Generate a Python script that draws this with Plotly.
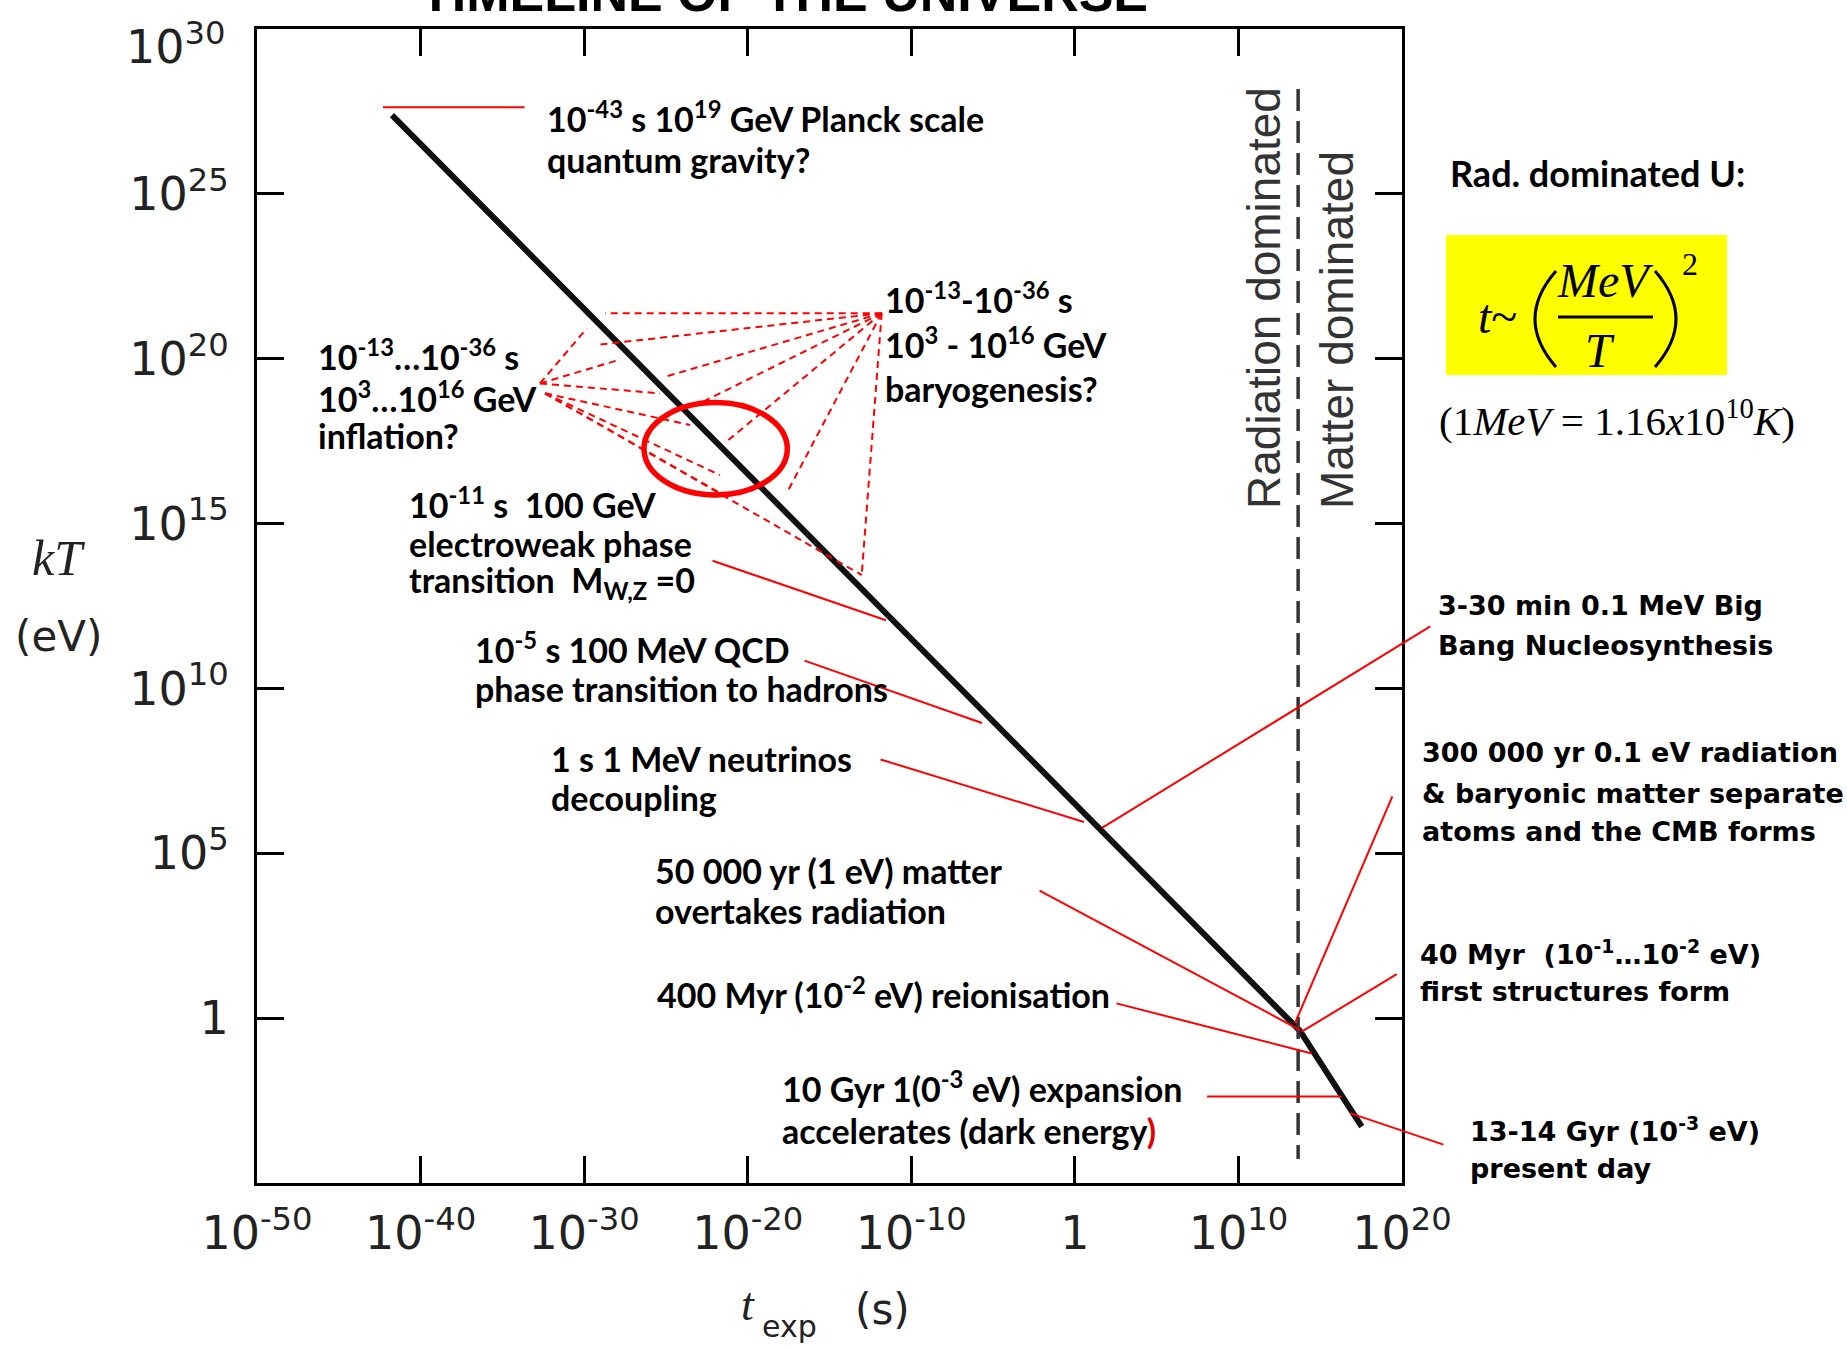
import plotly.graph_objects as go

# ------------------------------------------------------------------
# DATA (log10 values on the axes)
# ------------------------------------------------------------------
# kT(t) track: radiation era (slope -1/2) then matter era
curve_log_t = [-41.75, 13.75, 17.54]
curve_log_kT = [27.39, -0.38, -3.29]

# radiation / matter equality divider (dashed)
equality_log_t = 13.65
divider_log_kT = [28.18, -4.27]

# axis ticks
x_tick_exp = [-50, -40, -30, -20, -10, 0, 10, 20]
x_tick_text = ["10<sup>-50</sup>", "10<sup>-40</sup>", "10<sup>-30</sup>", "10<sup>-20</sup>",
               "10<sup>-10</sup>", "1", "10<sup>10</sup>", "10<sup>20</sup>"]
y_tick_exp = [0, 5, 10, 15, 20, 25, 30]
y_tick_text = ["1", "10<sup>5</sup>", "10<sup>10</sup>", "10<sup>15</sup>",
               "10<sup>20</sup>", "10<sup>25</sup>", "10<sup>30</sup>"]

# events on the track (point touched by the red leader) and leader far end
event_name = ["planck", "electroweak", "qcd", "neutrinos", "bbn", "equality",
              "cmb", "structures", "reionisation", "dark_energy", "today"]
event_log_t = [-42.30, -11.55, -5.68, 0.56, 1.66, 13.77, 13.46, 13.87, 14.48, 16.31, 16.82]
event_log_kT = [27.63, 12.07, 8.95, 5.95, 5.77, -0.36, -0.15, -0.41, -1.07, -2.38, -2.88]
leader_log_t = [-33.55, -22.24, -16.62, -11.97, 21.82, -2.25, 19.45, 19.77, 2.45, 7.99, 22.63]
leader_log_kT = [27.63, 13.89, 10.86, 7.86, 11.91, 3.89, 6.77, 1.36, 0.46, -2.38, -3.85]

# inflation / baryogenesis epoch fans (dashed), log10 coordinates
inflation_src_log = [(-32.70, 19.25), (-32.39, 18.95)]
inflation_dst_log = [(-29.84, 20.92, 0), (-27.91, 19.96, 0), (-25.36, 18.95, 0),
                     (-23.53, 17.99, 1), (-21.69, 16.47, 1), (-21.28, 15.81, 1),
                     (-13.03, 13.44, 1)]
baryo_src_log = (-11.81, 21.38)
baryo_dst_log = [(-28.72, 21.38), (-29.23, 20.42), (-25.06, 19.45), (-22.92, 18.65),
                 (-21.19, 17.53), (-17.62, 15.92), (-13.03, 13.44)]
# highlighted electroweak region (ellipse)
ew_region_log_t = [-26.34, -17.58]
ew_region_log_kT = [15.87, 18.67]


def lin(v):
    return 10.0 ** float(v)


# ------------------------------------------------------------------
# LAYOUT helpers
# ------------------------------------------------------------------
W, H = 1847, 1350
L, R, T, B = 257, 1402, 29, 1183


def px(x):
    return (x - L) / (R - L)


def py(y):
    return (B - y) / (B - T)


RED = "#ff0000"
F_LEFT = dict(family="Lato, Carlito, sans-serif", size=34, color="black", weight="bold")
F_RIGHT = dict(family="DejaVu Sans, Verdana, sans-serif", size=27, color="black", weight="bold")
F_SERIF = "Liberation Serif, DejaVu Serif, serif"
TICK_FONT = dict(family="DejaVu Sans, sans-serif", size=46, color="#222222")

fig = go.Figure()

fig.add_trace(go.Scatter(
    x=[lin(v) for v in curve_log_t], y=[lin(v) for v in curve_log_kT],
    mode="lines", line=dict(color="#111111", width=6), hoverinfo="skip", showlegend=False))

fig.add_trace(go.Scatter(
    x=[lin(equality_log_t)] * 2, y=[lin(v) for v in divider_log_kT],
    mode="lines", line=dict(color="#333333", width=3.5, dash="22px,10px"),
    hoverinfo="skip", showlegend=False))

annotations = []
shapes = []

# red leaders (annotation arrows are not clipped to the plot area)
for i in range(len(event_name)):
    annotations.append(dict(
        x=event_log_t[i], y=event_log_kT[i], xref="x", yref="y",
        ax=leader_log_t[i], ay=leader_log_kT[i], axref="x", ayref="y",
        text="", showarrow=True, arrowhead=0, arrowwidth=2, arrowcolor=RED,
        standoff=0, startstandoff=0))

# dashed fans
for (tx, ty, k) in inflation_dst_log:
    sx, sy = inflation_src_log[k]
    shapes.append(dict(type="line", xref="x", yref="y",
                       x0=lin(sx), y0=lin(sy), x1=lin(tx), y1=lin(ty),
                       line=dict(color=RED, width=2, dash="7px,5px")))
for (tx, ty) in baryo_dst_log:
    sx, sy = baryo_src_log
    shapes.append(dict(type="line", xref="x", yref="y",
                       x0=lin(sx), y0=lin(sy), x1=lin(tx), y1=lin(ty),
                       line=dict(color=RED, width=2, dash="7px,5px")))

shapes.append(dict(type="circle", xref="x", yref="y",
                   x0=lin(ew_region_log_t[0]), x1=lin(ew_region_log_t[1]),
                   y0=lin(ew_region_log_kT[0]), y1=lin(ew_region_log_kT[1]),
                   line=dict(color=RED, width=5.5)))


def add_lines(lines, x_left, y_centers, font):
    for line, yc in zip(lines, y_centers):
        annotations.append(dict(text=line, x=px(x_left), y=py(yc), xref="paper", yref="paper",
                                xanchor="left", yanchor="middle", showarrow=False, font=font))


def add_center(text, xc, yc, font, **kw):
    annotations.append(dict(text=text, x=px(xc), y=py(yc), xref="paper", yref="paper",
                            xanchor="center", yanchor="middle", showarrow=False, font=font, **kw))


add_lines(["10<sup>-43</sup> s 10<sup>19</sup> GeV Planck scale", "quantum gravity?"],
          545, [117, 159], F_LEFT)
add_lines(["10<sup>-13</sup>…10<sup>-36</sup> s", "10<sup>3</sup>…10<sup>16</sup> GeV", "inflation?"],
          316, [355, 397, 435], F_LEFT)
add_lines(["10<sup>-13</sup>-10<sup>-36</sup> s", "10<sup>3</sup> - 10<sup>16</sup> GeV", "baryogenesis?"],
          883, [298, 343, 388], F_LEFT)
add_lines(["10<sup>-11</sup> s  100 GeV", "electroweak phase", "transition  M<sub>W,Z</sub> =0"],
          407, [503, 543, 582], F_LEFT)
add_lines(["10<sup>-5</sup> s 100 MeV QCD", "phase transition to hadrons"],
          473, [648, 688], F_LEFT)
add_lines(["1 s 1 MeV neutrinos", "decoupling"], 549, [758, 798], F_LEFT)
add_lines(["50 000 yr (1 eV) matter", "overtakes radiation"], 653, [870, 910], F_LEFT)
add_lines(["400 Myr (10<sup>-2</sup> eV) reionisation"], 655, [993], F_LEFT)
add_lines(["10 Gyr 1(0<sup>-3</sup> eV) expansion",
           "accelerates (dark energy<span style='color:#e00000'>)</span>"],
          780, [1087, 1130], F_LEFT)

add_lines(["3-30 min 0.1 MeV Big", "Bang Nucleosynthesis"], 1436, [605, 646], F_RIGHT)
add_lines(["300 000 yr 0.1 eV radiation", "&amp; baryonic matter separate",
           "atoms and the CMB forms"], 1420, [752, 793, 831], F_RIGHT)
add_lines(["40 Myr  (10<sup>-1</sup>…10<sup>-2</sup> eV)", "first structures form"],
          1418, [952, 991], F_RIGHT)
add_lines(["13-14 Gyr (10<sup>-3</sup> eV)", "present day"], 1468, [1129, 1168], F_RIGHT)

add_lines(["Rad. dominated U:"], 1448, [173],
          dict(family="Lato, Carlito, sans-serif", size=36, color="black", weight="bold"))

# title (cut off by the top of the page)
annotations.append(dict(text="TIMELINE OF THE UNIVERSE", x=px(418), y=py(24),
                        xref="paper", yref="paper", xanchor="left", yanchor="bottom",
                        showarrow=False,
                        font=dict(family="Liberation Sans, Arial, sans-serif", size=52,
                                  color="black", weight="bold")))

# top y tick label sits a little below its tick in the original
y_tick_text_axis = y_tick_text[:-1] + [""]
annotations.append(dict(text=y_tick_text[-1], x=px(228), y=py(44), xref="paper", yref="paper",
                        xanchor="right", yanchor="middle", showarrow=False, font=TICK_FONT))

# era labels
ERA_FONT = dict(family="Liberation Sans, Arial, sans-serif", size=46, color="#333333")
add_center("Radiation dominated", 1264, 298, ERA_FONT, textangle=-90)
add_center("Matter dominated", 1337, 330, ERA_FONT, textangle=-90)

# axis titles
add_center("<i>kT</i>", 58, 558, dict(family=F_SERIF, size=50, color="#222222"))
add_center("(eV)", 58, 636, dict(family="DejaVu Sans, sans-serif", size=42, color="#222222"))
add_center("<i>t</i>", 748, 1304, dict(family=F_SERIF, size=46, color="#222222"))
add_center("exp", 789, 1326, dict(family="DejaVu Sans, sans-serif", size=30, color="#222222"))
add_center("(s)", 882, 1309, dict(family="DejaVu Sans, sans-serif", size=42, color="#222222"))

# formula box
shapes.append(dict(type="rect", xref="paper", yref="paper",
                   x0=px(1446), x1=px(1727), y0=py(375), y1=py(235),
                   fillcolor="#ffff00", line=dict(width=0), layer="below"))
shapes.append(dict(type="line", xref="paper", yref="paper",
                   x0=px(1558), x1=px(1653), y0=py(317), y1=py(317),
                   line=dict(color="black", width=3)))
shapes.append(dict(type="path", xref="paper", yref="paper",
                   path=f"M {px(1556)},{py(271)} Q {px(1514)},{py(319)} {px(1556)},{py(367)}",
                   line=dict(color="black", width=3)))
shapes.append(dict(type="path", xref="paper", yref="paper",
                   path=f"M {px(1655)},{py(271)} Q {px(1697)},{py(319)} {px(1655)},{py(367)}",
                   line=dict(color="black", width=3)))
FORMULA = dict(family=F_SERIF, size=48, color="black")
add_center("<i>t</i>~", 1497, 316, FORMULA)
add_center("<i>MeV</i>", 1605, 280, FORMULA)
add_center("<i>T</i>", 1600, 350, FORMULA)
add_center("2", 1690, 264, dict(family=F_SERIF, size=32, color="black"))
add_center("(1<i>MeV</i> = 1.16<i>x</i>10<sup>10</sup><i>K</i>)", 1617, 418,
           dict(family=F_SERIF, size=41, color="black"))

axis_common = dict(type="log", showgrid=False, zeroline=False, showline=True, linecolor="black",
                   linewidth=3, mirror="ticks", ticks="inside", ticklen=27, tickwidth=2.5,
                   tickcolor="black", tickmode="array", ticklabeloverflow="allow",
                   automargin=False, tickfont=TICK_FONT)

fig.update_layout(
    width=W, height=H,
    margin=dict(l=L, r=W - R, t=T, b=H - B, autoexpand=False),
    paper_bgcolor="white", plot_bgcolor="white",
    xaxis=dict(range=[-50.0001, 20.0001], tickvals=[lin(e) for e in x_tick_exp], ticktext=x_tick_text,
               ticklabelstandoff=8, **axis_common),
    yaxis=dict(range=[-5, 30.0001], tickvals=[lin(e) for e in y_tick_exp], ticktext=y_tick_text_axis,
               ticklabelstandoff=16, **axis_common),
    annotations=annotations, shapes=shapes, showlegend=False,
)

fig.write_html("out.html")
